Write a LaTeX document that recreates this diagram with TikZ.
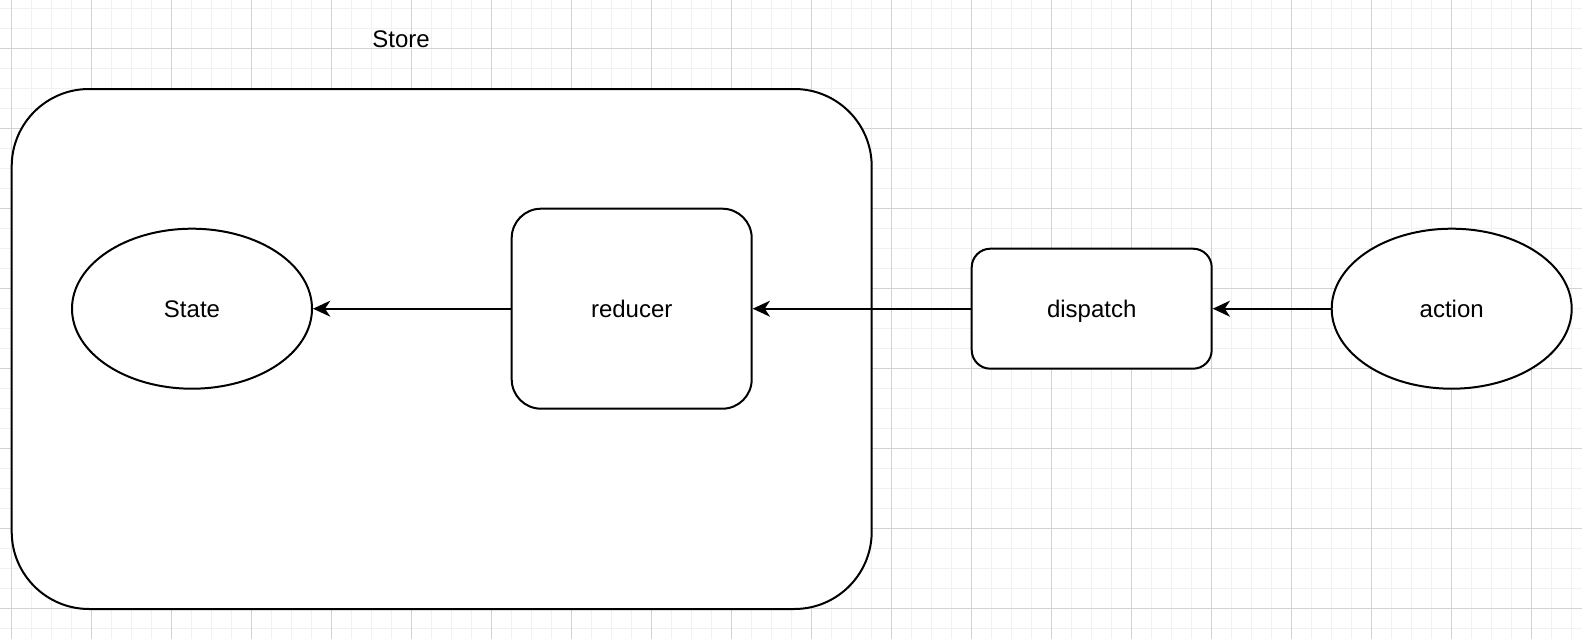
\documentclass[tikz,border=0pt]{standalone}
\usepackage{fontspec}
\setmainfont{Liberation Sans}
\usetikzlibrary{arrows.meta,shapes.geometric}
\definecolor{gridminor}{HTML}{F1F1F1}
\definecolor{gridmajor}{HTML}{D3D3D3}
\tikzset{
  lbl/.style={font=\fontsize{18}{20}\selectfont, text height=17pt, text depth=3.5pt},
  shapebox/.style={draw=black, line width=1.5pt, fill=white, rounded corners=#1, inner sep=0pt, lbl},
  shapeell/.style={ellipse, draw=black, line width=1.5pt, fill=white, inner sep=0pt, minimum width=180pt, minimum height=120pt, lbl},
  conn/.style={line width=1.5pt, -{Stealth[length=13pt, width=12pt, inset=4pt]}},
}
\begin{document}
\begin{tikzpicture}[x=0.75pt, y=-0.75pt]
\useasboundingbox (0,0) rectangle (1582,639);
\fill[white] (0,0) rectangle (1582,639);
% grid
\foreach \x in {0,...,78} {
  \draw[gridminor, line width=0.75pt] ({11.7+20*\x},0) -- ({11.7+20*\x},639);
}
\foreach \y in {0,...,31} {
  \draw[gridminor, line width=0.75pt] (0,{8.3+20*\y}) -- (1582,{8.3+20*\y});
}
\foreach \x in {0,...,19} {
  \draw[gridmajor, line width=0.75pt] ({11.7+80*\x},0) -- ({11.7+80*\x},639);
}
\foreach \y in {0,...,7} {
  \draw[gridmajor, line width=0.75pt] (0,{48.3+80*\y}) -- (1582,{48.3+80*\y});
}
% shapes
\node[shapebox=58pt, minimum width=645pt, minimum height=390pt] (store) at (441.7,349) {};
\node[lbl, inner sep=0pt] (storelbl) at (401,38.5) {Store};
\node[shapeell] (state) at (192,308.7) {State};
\node[shapebox=22pt, minimum width=180pt, minimum height=150pt] (reducer) at (631.7,308.7) {reducer};
\node[shapebox=14pt, minimum width=180pt, minimum height=90pt] (dispatch) at (1091.7,308.7) {dispatch};
\node[shapeell] (action) at (1451.7,308.7) {action};
% connectors
\draw[conn] (reducer.west) -- (state.east);
\draw[conn] (dispatch.west) -- (reducer.east);
\draw[conn] (action.west) -- (dispatch.east);
\end{tikzpicture}
\end{document}
